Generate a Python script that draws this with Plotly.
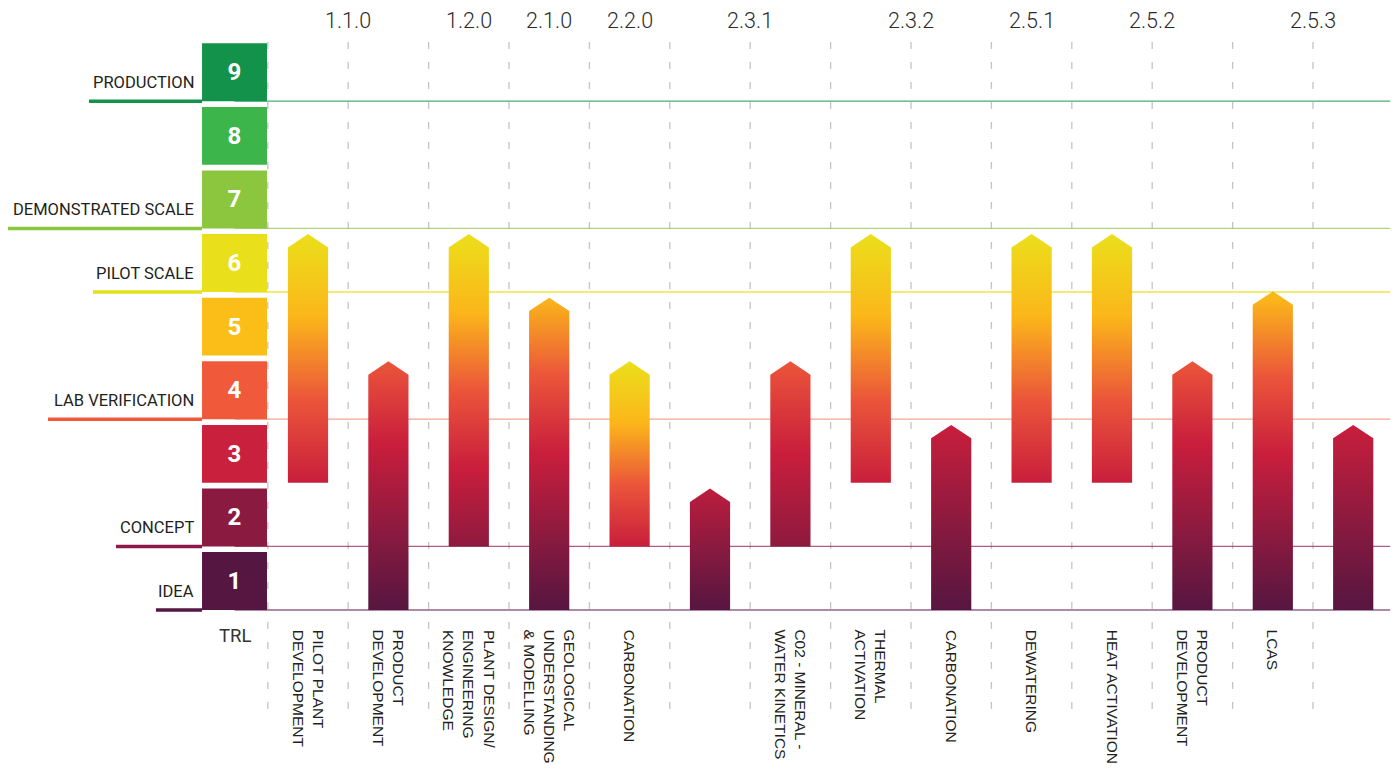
import plotly.graph_objects as go

# ---------------------------------------------------------------- data
TRL_LEVELS = [1, 2, 3, 4, 5, 6, 7, 8, 9]

STAGE_NAMES = ["IDEA", "CONCEPT", "LAB VERIFICATION", "PILOT SCALE",
               "DEMONSTRATED SCALE", "PRODUCTION"]
STAGE_LEVELS = [1, 2, 4, 6, 7, 9]

PROJECT_CODES = ["1.1.0", "1.1.0", "1.2.0", "2.1.0", "2.2.0", "2.3.1", "2.3.1",
                 "2.3.2", "2.3.2", "2.5.1", "2.5.2", "2.5.2", "2.5.3", "2.5.3"]

ACTIVITIES = [
    "PILOT PLANT<br>DEVELOPMENT",
    "PRODUCT<br>DEVELOPMENT",
    "PLANT DESIGN/<br>ENGINEERING<br>KNOWLEDGE",
    "GEOLOGICAL<br>UNDERSTANDING<br>& MODELLING",
    "CARBONATION",
    "",
    "C02 - MINERAL -<br>WATER KINETICS",
    "THERMAL<br>ACTIVATION",
    "CARBONATION",
    "DEWATERING",
    "HEAT ACTIVATION",
    "PRODUCT<br>DEVELOPMENT",
    "LCAS",
    "",
]

# TRL the activity starts from and the TRL it is aiming for
TRL_FROM = [3, 1, 2, 1, 2, 1, 2, 3, 1, 3, 3, 1, 1, 1]
TRL_TO = [6, 4, 6, 5, 4, 2, 4, 6, 3, 6, 6, 4, 5.1, 3]

# ---------------------------------------------------------------- style
BOX_COLORS = ["#561642", "#8b1a40", "#c9203d", "#f05a3a", "#fbbd17",
              "#e9e01b", "#8cc63f", "#3cb54a", "#12924a"]
STAGE_COLORS = ["#561642", "#8b1a4a", "#f05a3a", "#e6e01a", "#8cc63f", "#12924a"]
STAGE_THIN = ["rgba(110,50,100,0.75)", "rgba(139,26,74,0.7)", "rgba(240,90,58,0.55)",
              "rgba(230,224,26,0.8)", "rgba(140,198,63,0.7)", "rgba(18,146,74,0.75)"]
# left end of the heavy underline beneath each stage name (x axis units)
STAGE_RULE_START = [-1.891, -2.388, -3.234, -2.674, -3.731, -2.724]

# colours used along each gradient bar, indexed by TRL 1..6
SHADE = {1: "#561640", 2: "#8e1a3f", 3: "#c91e3c", 4: "#eb553a", 5: "#fbb61a", 6: "#ebdf1a"}
SHADE_OVERRIDE = {4: (3, 6), 5: (1, 2.8)}

BAR_W = 0.5          # width of an activity bar
HEAD_H = 0.21        # height of the arrow head
BOX_GAP = 0.09       # white gap between TRL boxes
BOX_X, BOX_W = -0.914, 0.808
RIGHT_END = 13.46

TEXT = "#231f20"


def hex_rgb(h):
    h = h.lstrip("#")
    return tuple(int(h[i:i + 2], 16) for i in (0, 2, 4))


def shade_at(v):
    lo = max(1, min(6, int(v)))
    hi = min(6, lo + 1)
    t = min(max(v - lo, 0), 1)
    a, b = hex_rgb(SHADE[lo]), hex_rgb(SHADE[hi])
    c = [round(a[k] + (b[k] - a[k]) * t) for k in range(3)]
    return "rgb({},{},{})".format(*c)


def shade_scale(v0, v1):
    pts = [v0] + [k for k in range(int(v0) + 1, int(v1) + 1) if v0 < k < v1] + [v1]
    return [[(p - v0) / (v1 - v0), shade_at(p)] for p in pts]


fig = go.Figure()

# TRL boxes on the left
fig.add_trace(go.Bar(
    x=[BOX_X] * len(TRL_LEVELS),
    y=[1 - BOX_GAP] * len(TRL_LEVELS),
    base=[lv - 1 for lv in TRL_LEVELS],
    width=BOX_W,
    marker=dict(color=BOX_COLORS, line=dict(width=0)),
    text=[str(lv) for lv in TRL_LEVELS],
    textposition="inside",
    insidetextanchor="middle",
    textangle=0,
    constraintext="none",
    textfont=dict(family="Roboto", size=24, color="white", weight=700),
    hoverinfo="skip",
    showlegend=False,
))

# activity arrows with vertical gradient fill
for i in range(len(TRL_FROM)):
    x0, x1 = i - BAR_W / 2, i + BAR_W / 2
    y0 = TRL_FROM[i] - 1
    tip = TRL_TO[i] - BOX_GAP
    sh = tip - HEAD_H
    s0, s1 = SHADE_OVERRIDE.get(i, (TRL_FROM[i], min(TRL_TO[i], 6)))
    fig.add_trace(go.Scatter(
        x=[x0, x0, i, x1, x1, x0],
        y=[y0, sh, tip, sh, y0, y0],
        mode="lines",
        fill="toself",
        line=dict(width=0, color="rgba(0,0,0,0)"),
        fillgradient=dict(type="vertical", colorscale=shade_scale(s0, s1)),
        hoverinfo="skip",
        showlegend=False,
    ))

shapes = []
# dashed separators between activities
for k in range(-1, len(TRL_FROM) - 1):
    shapes.append(dict(type="line", xref="x", yref="y", layer="below",
                       x0=k + 0.5, x1=k + 0.5, y0=8.93, y1=-1.6,
                       line=dict(color="#c4c4c4", width=1.3, dash="7px,13px")))

annotations = []
# stage rules and names
for name, lv, col, thin, xs in zip(STAGE_NAMES, STAGE_LEVELS, STAGE_COLORS,
                                   STAGE_THIN, STAGE_RULE_START):
    y = lv - 1
    shapes.append(dict(type="line", xref="x", yref="y", layer="below",
                       x0=BOX_X, x1=RIGHT_END, y0=y, y1=y,
                       line=dict(color=thin, width=1.3)))
    shapes.append(dict(type="line", xref="x", yref="y", layer="below",
                       x0=xs, x1=BOX_X - BOX_W / 2, y0=y, y1=y,
                       line=dict(color=col, width=3.5)))
    annotations.append(dict(x=BOX_X - BOX_W / 2 - 0.08, y=y + 0.29, xref="x", yref="y",
                            text=name, showarrow=False, xanchor="right", yanchor="middle",
                            font=dict(family="Roboto", size=16.5, color=TEXT)))

# project codes along the top
seen = []
for code in PROJECT_CODES:
    if code not in seen:
        seen.append(code)
for code in seen:
    idx = [i for i, c in enumerate(PROJECT_CODES) if c == code]
    annotations.append(dict(x=sum(idx) / len(idx), y=9.27, xref="x", yref="y",
                            text=code, showarrow=False, xanchor="center", yanchor="middle",
                            font=dict(family="Roboto", size=21.5, color="#2a2a2a", weight=300)))

# activity names, rotated
for i, label in enumerate(ACTIVITIES):
    if not label:
        continue
    annotations.append(dict(x=i, y=-0.28, xref="x", yref="y", text=label,
                            showarrow=False, textangle=90, xanchor="center", yanchor="top",
                            align="left",
                            font=dict(family="Liberation Sans", size=15.5, color=TEXT)))

annotations.append(dict(x=BOX_X, y=-0.41, xref="x", yref="y", text="TRL",
                        showarrow=False, xanchor="center", yanchor="middle",
                        font=dict(family="Roboto", size=18.5, color="#333333")))

fig.update_layout(
    width=1395, height=769,
    margin=dict(l=0, r=0, t=0, b=0),
    paper_bgcolor="white", plot_bgcolor="white",
    barmode="overlay",
    xaxis=dict(range=[-3.8308, 13.5199], visible=False, fixedrange=True),
    yaxis=dict(range=[-2.5, 9.591], visible=False, fixedrange=True),
    shapes=shapes,
    annotations=annotations,
    showlegend=False,
)

fig.write_html("out.html", config={"displayModeBar": False})
